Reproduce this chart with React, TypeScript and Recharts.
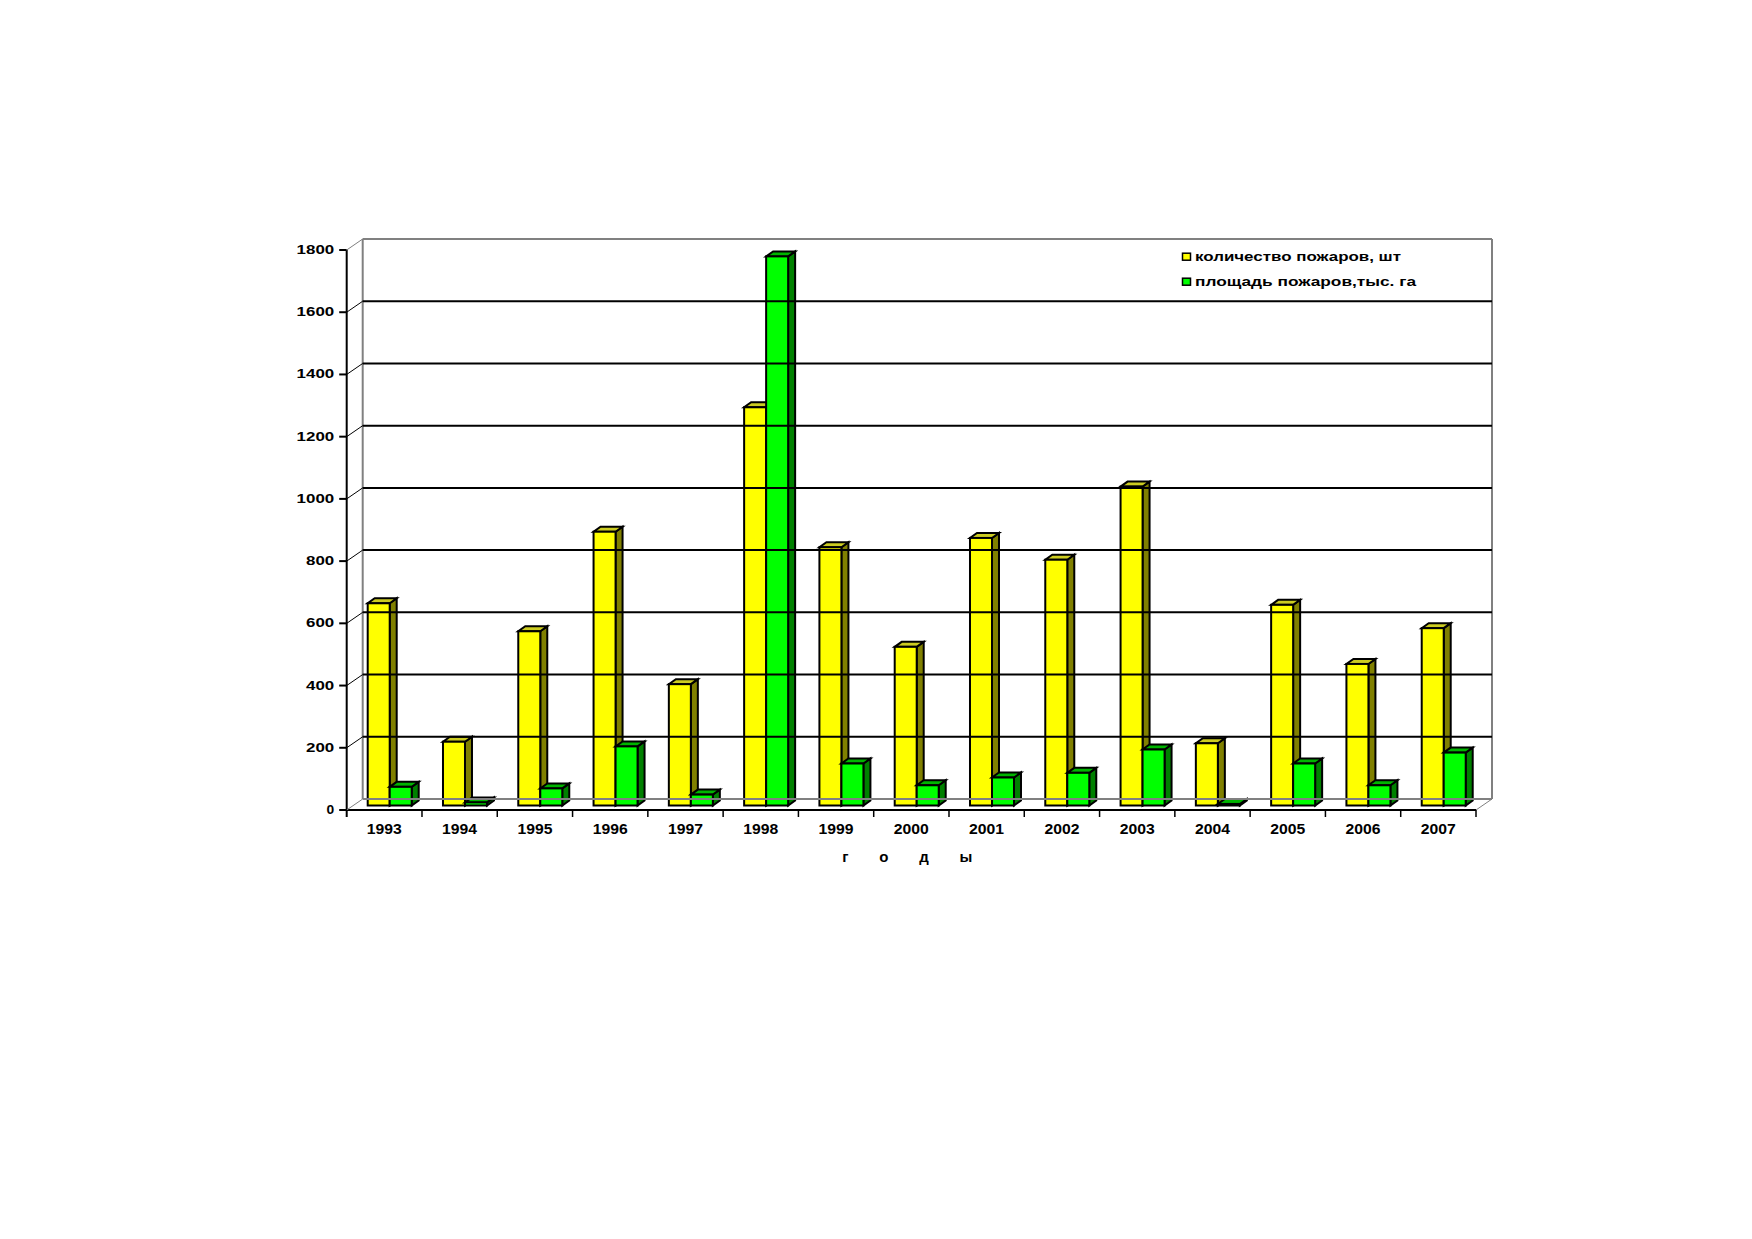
import React from 'react'
import { BarChart, Bar, XAxis, YAxis, Legend } from 'recharts'

// fire statistics 1993-2007
const years = ['1993', '1994', '1995', '1996', '1997', '1998', '1999', '2000', '2001', '2002', '2003', '2004', '2005', '2006', '2007']
const fireCount = [650, 205, 560, 880, 390, 1280, 830, 510, 860, 790, 1025, 200, 645, 455, 570]
const fireArea = [60, 10, 55, 190, 35, 1765, 135, 65, 90, 105, 180, 5, 135, 65, 170]
const yTicks = [0, 200, 400, 600, 800, 1000, 1200, 1400, 1600, 1800]
const seriesNames = ['количество пожаров, шт', 'площадь пожаров,тыс. га']
const axisTitle = 'г о д ы'

const data = years.map((year, i) => ({ year, count: fireCount[i], area: fireArea[i] }))

const FONT = '"Liberation Sans", Arial, sans-serif'

// chart geometry (svg coords, wrapper sits at the 8px body margin)
const W = 1736
const H = 900
const PLOT_L = 338.7
const PLOT_R = 1468
const PLOT_T = 242
const PLOT_B = 802
const PLOT_W = PLOT_R - PLOT_L
const PLOT_H = PLOT_B - PLOT_T
const Y_AXIS_W = 60
const X_AXIS_H = 40
const BAND = PLOT_W / years.length

// back wall depth, bar plane shift and bar depth
const WALL_DX = 16
const WALL_DY = 11
const SHIFT_X = 5.5
const SHIFT_Y = -4.5
const BOX_DX = 7
const BOX_DY = 5

const Y_MAX = yTicks[yTicks.length - 1]

function Box3D(props: any) {
    const { x, y, width, height, front, side, top } = props
    if (width == null || height == null) return null
    const x0 = x + SHIFT_X
    const y0 = y + SHIFT_Y
    const x1 = x0 + width
    const y1 = y0 + height
    return (
        <g stroke="#000" strokeWidth={2} strokeLinejoin="miter">
            <polygon points={`${x1},${y1} ${x1},${y0} ${x1 + BOX_DX},${y0 - BOX_DY} ${x1 + BOX_DX},${y1 - BOX_DY}`} fill={side} />
            <polygon points={`${x0},${y0} ${x1},${y0} ${x1 + BOX_DX},${y0 - BOX_DY} ${x0 + BOX_DX},${y0 - BOX_DY}`} fill={top} />
            <rect x={x0} y={y0} width={width} height={height} fill={front} />
        </g>
    )
}

function ValueTick(props: any) {
    const { x, y, payload } = props
    const v = payload.value
    const edge = v === 0 || v === Y_MAX
    const label = String(v)
    const len = label.length === 1 ? 7.7 : label.length * 9.4
    return (
        <g>
            <line x1={x - 7.5} y1={y} x2={x} y2={y} stroke="#000" strokeWidth={2} />
            <line x1={x} y1={y} x2={x + WALL_DX} y2={y - WALL_DY} stroke={edge ? '#808080' : '#000'} strokeWidth={1} />
            <line
                x1={x + WALL_DX} y1={y - WALL_DY} x2={x + WALL_DX + PLOT_W} y2={y - WALL_DY}
                stroke={edge ? '#808080' : '#000'} strokeWidth={2}
            />
            {v === 0 && (
                <g stroke="#808080" strokeWidth={2}>
                    <line x1={x + WALL_DX} y1={y - WALL_DY} x2={x + WALL_DX} y2={y - WALL_DY - PLOT_H} />
                    <line x1={x + WALL_DX + PLOT_W} y1={y - WALL_DY} x2={x + WALL_DX + PLOT_W} y2={y - WALL_DY - PLOT_H} />
                    <line x1={x + PLOT_W} y1={y} x2={x + PLOT_W + WALL_DX} y2={y - WALL_DY} strokeWidth={1} />
                </g>
            )}
            <text
                x={x - 12.5} y={y} textAnchor="end" dominantBaseline="central"
                fontFamily={FONT} fontSize={12} fontWeight="bold" fill="#000"
                textLength={len} lengthAdjust="spacingAndGlyphs"
            >
                {label}
            </text>
        </g>
    )
}

function YearTick(props: any) {
    const { x, y, payload, index } = props
    const half = BAND / 2
    return (
        <g>
            {index === 0 && <line x1={x - half} y1={y} x2={x - half} y2={y + 7} stroke="#000" strokeWidth={2} />}
            <line x1={x + half} y1={y} x2={x + half} y2={y + 7} stroke="#000" strokeWidth={1.5} />
            <text
                x={x} y={y + 19} textAnchor="middle" dominantBaseline="central"
                fontFamily={FONT} fontSize={14} fontWeight="bold" fill="#000"
                textLength={35} lengthAdjust="spacingAndGlyphs"
            >
                {payload.value}
            </text>
        </g>
    )
}

function AxisTitle(props: any) {
    const vb = props.viewBox || { x: PLOT_L, y: PLOT_B, width: PLOT_W }
    return (
        <text
            x={vb.x + vb.width / 2 - 4} y={vb.y + 46} textAnchor="middle" dominantBaseline="central"
            fontFamily={FONT} fontSize={15} fontWeight="bold" fill="#000"
            textLength={130} lengthAdjust="spacing"
        >
            {axisTitle}
        </text>
    )
}

const legendWidths = [206, 221]

function LegendBox(props: any) {
    const payload = props.payload || []
    return (
        <svg width={260} height={50} style={{ display: 'block' }}>
            {payload.map((p: any, i: number) => {
                const cy = 11.7 + i * 25
                return (
                    <g key={i}>
                        <rect x={2.5} y={cy - 3.5} width={8} height={7} fill={p.color} stroke="#000" strokeWidth={1.5} />
                        <text
                            x={15} y={cy} dominantBaseline="central"
                            fontFamily={FONT} fontSize={12} fontWeight="bold" fill="#000"
                            textLength={legendWidths[i]} lengthAdjust="spacingAndGlyphs"
                        >
                            {p.value}
                        </text>
                    </g>
                )
            })}
        </svg>
    )
}

export default function App() {
    return (
        <div style={{ width: W, height: H, background: '#fff' }}>
            <BarChart
                width={W}
                height={H}
                data={data}
                margin={{ top: PLOT_T, left: PLOT_L - Y_AXIS_W, right: W - PLOT_R, bottom: H - PLOT_B - X_AXIS_H }}
                barCategoryGap={15.5}
                barGap={0}
            >
                <YAxis
                    type="number"
                    domain={[0, Y_MAX]}
                    ticks={yTicks}
                    interval={0}
                    width={Y_AXIS_W}
                    tickSize={0}
                    tickMargin={0}
                    tickLine={false}
                    axisLine={{ stroke: '#000', strokeWidth: 2 }}
                    tick={<ValueTick />}
                />
                <XAxis
                    dataKey="year"
                    interval={0}
                    height={X_AXIS_H}
                    tickSize={0}
                    tickMargin={0}
                    tickLine={false}
                    axisLine={{ stroke: '#000', strokeWidth: 2 }}
                    tick={<YearTick />}
                    label={{ value: axisTitle, content: <AxisTitle /> }}
                />
                <Legend
                    layout="horizontal"
                    verticalAlign="middle"
                    align="center"
                    content={<LegendBox />}
                    wrapperStyle={{ left: 1180 - 8, top: 245 - 8, width: 260, height: 50 }}
                />
                <Bar
                    dataKey="count"
                    name={seriesNames[0]}
                    fill="#FFFF00"
                    isAnimationActive={false}
                    shape={(p: any) => <Box3D {...p} front="#FFFF00" side="#808000" top="#CCCC22" />}
                />
                <Bar
                    dataKey="area"
                    name={seriesNames[1]}
                    fill="#00FF00"
                    isAnimationActive={false}
                    shape={(p: any) => <Box3D {...p} front="#00FF00" side="#008000" top="#00B400" />}
                />
            </BarChart>
        </div>
    )
}
